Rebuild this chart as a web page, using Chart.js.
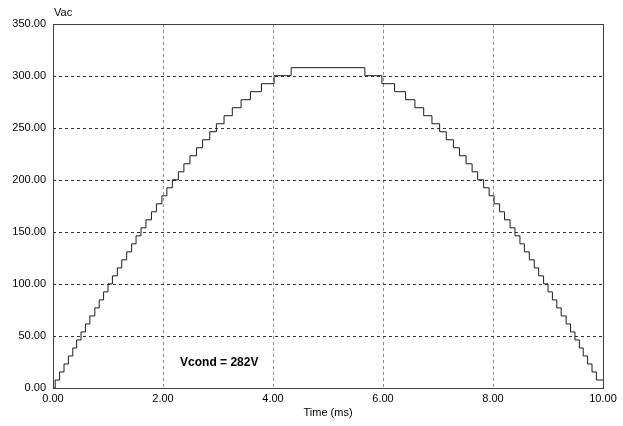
<!DOCTYPE html>
<html>
<head>
<meta charset="utf-8">
<script src="https://cdn.jsdelivr.net/npm/chart.js@4/dist/chart.umd.min.js"></script>
<style>
  html, body { margin: 0; padding: 0; background: #fff; }
  #wrap { width: 623px; height: 426px; }
</style>
</head>
<body>
<div id="wrap"><canvas id="chart" width="623" height="426"></canvas></div>
<script>
'use strict';

// Step edges (ms) and the level each edge goes to (V)
const riseTimes = [0.00, 0.04, 0.12, 0.20, 0.28, 0.36, 0.43, 0.51, 0.59, 0.67, 0.76,
  0.84, 0.92, 1.00, 1.08, 1.17, 1.25, 1.34, 1.43, 1.51, 1.60, 1.69, 1.79, 1.88, 1.98,
  2.07, 2.17, 2.28, 2.38, 2.49, 2.61, 2.72, 2.85, 2.97, 3.11, 3.26, 3.42, 3.59, 3.79,
  4.02, 4.33];
const riseLevels = [0, 7.7, 15.4, 23.1, 30.8, 38.5, 46.2, 53.9, 61.6, 69.3, 77.0,
  84.7, 92.4, 100.1, 107.8, 115.5, 123.2, 130.9, 138.6, 146.3, 154.0, 161.7, 169.4,
  177.1, 184.8, 192.5, 200.2, 207.9, 215.6, 223.3, 231.0, 238.7, 246.4, 254.1, 261.8,
  269.5, 277.2, 284.9, 292.6, 300.3, 308.0];

const fallTimes = [5.67, 5.98, 6.21, 6.41, 6.58, 6.74, 6.89, 7.03, 7.15, 7.28, 7.39,
  7.51, 7.62, 7.72, 7.83, 7.93, 8.02, 8.12, 8.21, 8.31, 8.40, 8.49, 8.57, 8.66, 8.75,
  8.83, 8.92, 9.00, 9.08, 9.16, 9.24, 9.33, 9.41, 9.49, 9.57, 9.64, 9.72, 9.80, 9.88,
  10.00];
const fallLevels = [300.3, 292.6, 284.9, 277.2, 269.5, 261.8, 254.1, 246.4, 238.7,
  231.0, 223.3, 215.6, 207.9, 200.2, 192.5, 184.8, 177.1, 169.4, 161.7, 154.0, 146.3,
  138.6, 130.9, 123.2, 115.5, 107.8, 100.1, 92.4, 84.7, 77.0, 69.3, 61.6, 53.9, 46.2,
  38.5, 30.8, 23.1, 15.4, 7.7, 7.7];

const xTicks = [0, 2, 4, 6, 8, 10];
const yTicks = [0, 50, 100, 150, 200, 250, 300, 350];

const yLabel = 'Vac';
const xLabel = 'Time (ms)';
const note = { text: 'Vcond = 282V', t: 2.31, v: 24 };

const FONT = '"Liberation Sans", Arial, sans-serif';

const points = riseTimes.map((t, i) => ({ x: t, y: riseLevels[i] }))
  .concat(fallTimes.map((t, i) => ({ x: t, y: fallLevels[i] })));

// frame round the plot, axis caption and the note inside the plot
const framePlugin = {
  id: 'frame',
  afterDraw(chart) {
    const { ctx, chartArea: a, scales } = chart;
    ctx.save();
    ctx.strokeStyle = '#404040';
    ctx.lineWidth = 1;
    ctx.strokeRect(Math.round(a.left) + 0.5, Math.round(a.top) + 0.5,
      Math.round(a.right - a.left), Math.round(a.bottom - a.top));

    ctx.fillStyle = '#000';
    ctx.font = '11px ' + FONT;
    ctx.textAlign = 'left';
    ctx.textBaseline = 'middle';
    ctx.fillText(yLabel, a.left + 1, a.top - 11);

    ctx.font = 'bold 12px ' + FONT;
    ctx.fillText(note.text, scales.x.getPixelForValue(note.t), scales.y.getPixelForValue(note.v));
    ctx.restore();
  }
};

new Chart(document.getElementById('chart'), {
  type: 'line',
  data: {
    datasets: [{
      data: points,
      stepped: 'before',
      borderColor: '#1a1a1a',
      borderWidth: 1,
      pointRadius: 0,
      fill: false,
    }]
  },
  options: {
    responsive: false,
    animation: false,
    layout: { padding: { top: 24, right: 20, left: 0, bottom: 6 } },
    plugins: { legend: { display: false }, tooltip: { enabled: false } },
    scales: {
      x: {
        type: 'linear',
        min: 0, max: 10,
        afterBuildTicks: s => { s.ticks = xTicks.map(v => ({ value: v })); },
        afterFit: s => { s.height = 32; },
        grid: { color: '#8a8a8a', drawTicks: false },
        border: { display: false, dash: [3, 3] },
        ticks: {
          color: '#000', padding: 4,
          font: { family: FONT, size: 11 },
          callback: v => Number(v).toFixed(2),
          maxRotation: 0,
        },
        title: {
          display: true, text: xLabel, color: '#000',
          font: { family: FONT, size: 11 }, padding: { top: 1, bottom: 0 },
        },
      },
      y: {
        min: 0, max: 350,
        afterBuildTicks: s => { s.ticks = yTicks.map(v => ({ value: v })); },
        afterFit: s => { s.width = 53; },
        grid: { color: '#333', drawTicks: false },
        border: { display: false, dash: [3, 3] },
        ticks: {
          color: '#000', padding: 7,
          font: { family: FONT, size: 11 },
          callback: v => Number(v).toFixed(2),
        },
      },
    },
  },
  plugins: [framePlugin],
});
</script>
</body>
</html>
